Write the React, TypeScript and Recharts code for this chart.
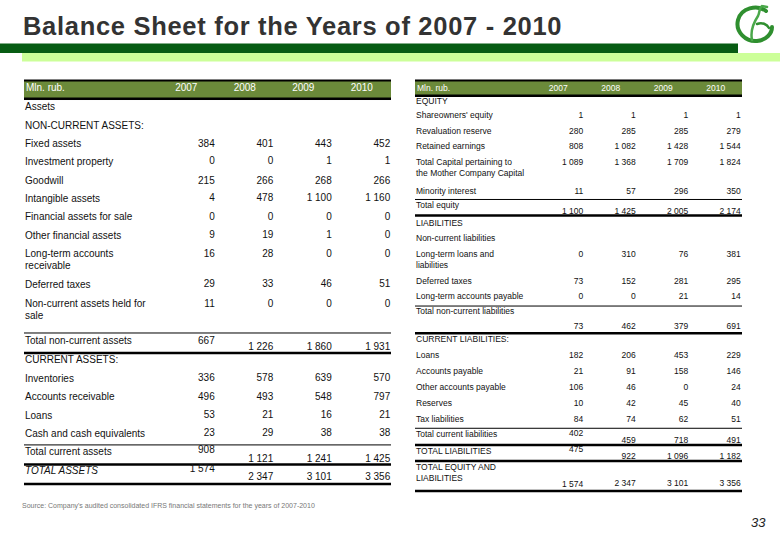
import React from 'react';
import { ScatterChart, Scatter, XAxis, YAxis, ReferenceLine, ReferenceArea } from 'recharts';

// ---------- data ----------
const years = ['2007', '2008', '2009', '2010'];

const assetLabels = [
  'Assets', 'NON-CURRENT ASSETS:', 'Fixed assets', 'Investment property', 'Goodwill',
  'Intangible assets', 'Financial assets for sale', 'Other financial assets',
  'Long-term accounts\nreceivable', 'Deferred taxes', 'Non-current assets held for\nsale',
  'Total non-current assets', 'CURRENT ASSETS:', 'Inventories', 'Accounts receivable',
  'Loans', 'Cash and cash equivalents', 'Total current assets', 'TOTAL ASSETS',
];
const assets2007 = [null, null, 384, 0, 215, 4, 0, 9, 16, 29, 11, 667, null, 336, 496, 53, 23, 908, 1574];
const assets2008 = [null, null, 401, 0, 266, 478, 0, 19, 28, 33, 0, 1226, null, 578, 493, 21, 29, 1121, 2347];
const assets2009 = [null, null, 443, 1, 268, 1100, 0, 1, 0, 46, 0, 1860, null, 639, 548, 16, 38, 1241, 3101];
const assets2010 = [null, null, 452, 1, 266, 1160, 0, 0, 0, 51, 0, 1931, null, 570, 797, 21, 38, 1425, 3356];

const liabLabels = [
  'EQUITY', "Shareowners' equity", 'Revaluation reserve', 'Retained earnings',
  'Total Capital pertaining to\nthe Mother Company Capital', 'Minority interest', 'Total equity',
  'LIABILITIES', 'Non-current liabilities', 'Long-term loans and\nliabilities', 'Deferred taxes',
  'Long-term accounts payable', 'Total non-current liabilities', 'CURRENT LIABILITIES:', 'Loans',
  'Accounts payable', 'Other accounts payable', 'Reserves', 'Tax liabilities',
  'Total current liabilities', 'TOTAL LIABILITIES', 'TOTAL EQUITY AND\nLIABILITIES',
];
const liab2007 = [null, 1, 280, 808, 1089, 11, 1100, null, null, 0, 73, 0, 73, null, 182, 21, 106, 10, 84, 402, 475, 1574];
const liab2008 = [null, 1, 285, 1082, 1368, 57, 1425, null, null, 310, 152, 0, 462, null, 206, 91, 46, 42, 74, 459, 922, 2347];
const liab2009 = [null, 1, 285, 1428, 1709, 296, 2005, null, null, 76, 281, 21, 379, null, 453, 158, 0, 45, 62, 718, 1096, 3101];
const liab2010 = [null, 1, 279, 1544, 1824, 350, 2174, null, null, 381, 295, 14, 691, null, 229, 146, 24, 40, 51, 491, 1182, 3356];

// ---------- layout (row positions in line units) ----------
const leftLabelSlots = [0, 1.03, 2, 2.97, 4, 4.97, 5.95, 6.97, 7.95, 9.62, 10.65, 12.65, 13.68, 14.68, 15.7, 16.68, 17.65, 18.65, 19.68];
const leftFirstSlots = [0, 1.03, 2, 2.97, 4, 4.97, 5.95, 6.97, 7.95, 9.62, 10.65, 12.65, 13.68, 14.68, 15.7, 16.68, 17.65, 18.59, 19.62];
const leftRestSlots = [0, 1.03, 2, 2.97, 4, 4.97, 5.95, 6.97, 7.95, 9.62, 10.65, 13.0, 13.68, 14.68, 15.7, 16.68, 17.65, 19.03, 20.05];
const leftThin = [12.27, 18.32];
const leftThick = [13.35, 19.38, 20.43];

const rightLabelSlots = [-0.875, 0, 0.98, 1.94, 2.95, 4.75, 5.625, 6.72, 7.7, 8.7, 10.35, 11.33, 12.28, 14.0, 15, 16, 17, 18, 19, 19.96, 20.97, 21.98];
const rightFirstSlots = [-0.875, 0, 0.98, 1.94, 2.95, 4.75, 6, 6.72, 7.7, 8.7, 10.35, 11.33, 13.16, 14.0, 15, 16, 17, 18, 19, 19.875, 20.9, 23.09];
const rightRestSlots = [-0.875, 0, 0.98, 1.94, 2.95, 4.75, 6, 6.72, 7.7, 8.7, 10.35, 11.33, 13.16, 14.0, 15, 16, 17, 18, 19, 20.31, 21.31, 23.0];
const rightThin = [5.28, 11.94, 19.58];
const rightThick = [6.28, 13.64, 20.625, 21.625, 23.5];

const FONT = '"Liberation Sans", Arial, sans-serif';
const OLIVE = '#6b8a3a';

const fmt = (v: number) => {
  const s = String(v);
  return s.length > 3 ? s.slice(0, s.length - 3) + ' ' + s.slice(-3) : s;
};

type TableProps = {
  left: number;
  width: number;
  yAxisWidth: number;
  marginTop: number;
  marginBottom: number;
  marginRight: number;
  domain: [number, number];
  labels: string[];
  labelSlots: number[];
  firstSlots: number[];
  restSlots: number[];
  columns: (number | null)[][];
  headerSlot: number;
  barTop: number;
  barBottom: number;
  thin: number[];
  thick: number[];
  fontSize: number;
  lineGap: number;
  valueDx: number;
  italic: string[];
};

function BalanceTable(p: TableProps) {
  const ticks = [p.headerSlot, ...p.labelSlots];
  const renderTick = (t: any) => {
    const v = t.payload.value;
    if (v === p.headerSlot) {
      return (
        <text x={4} y={t.y} dominantBaseline="central" fontSize={p.fontSize} fill="#fff" fontFamily={FONT}>
          Mln. rub.
        </text>
      );
    }
    const idx = p.labelSlots.indexOf(v);
    if (idx < 0) return <g />;
    const lines = p.labels[idx].split('\n');
    return (
      <text
        x={3}
        y={t.y}
        dominantBaseline="central"
        fontSize={p.fontSize}
        fill="#111"
        fontFamily={FONT}
        fontStyle={p.italic.includes(p.labels[idx]) ? 'italic' : 'normal'}
      >
        {lines.map((ln, k) => (
          <tspan key={k} x={3} dy={k === 0 ? 0 : p.lineGap}>
            {ln}
          </tspan>
        ))}
      </text>
    );
  };

  const headerData = years.map((label, i) => ({ x: i, slot: p.headerSlot, label }));

  return (
    <div style={{ position: 'absolute', left: p.left, top: 0 }}>
      <ScatterChart
        width={p.width}
        height={540}
        margin={{ top: p.marginTop, bottom: p.marginBottom, left: 0, right: p.marginRight }}
      >
        <XAxis type="number" dataKey="x" domain={[-0.5, 3.5]} hide />
        <YAxis
          type="number"
          dataKey="slot"
          domain={p.domain}
          reversed
          ticks={ticks}
          interval={0}
          width={p.yAxisWidth}
          tickLine={false}
          axisLine={false}
          tick={renderTick}
          allowDataOverflow
        />
        <ReferenceArea
          y1={p.barTop}
          y2={p.barBottom}
          ifOverflow="visible"
          shape={(s: any) => (
            <g>
              <rect x={2} y={s.y} width={s.x + s.width - 2} height={s.height} fill="#000" />
              <rect x={2} y={s.y + 2} width={s.x + s.width - 2} height={s.height - 4.5} fill={OLIVE} />
            </g>
          )}
        />
        {p.thin.map((y, i) => (
          <ReferenceLine
            key={'t' + i}
            y={y}
            ifOverflow="visible"
            shape={(s: any) => <line x1={2} x2={s.x2} y1={s.y1} y2={s.y2} stroke="#000" strokeWidth={1} />}
          />
        ))}
        {p.thick.map((y, i) => (
          <ReferenceLine
            key={'k' + i}
            y={y}
            ifOverflow="visible"
            shape={(s: any) => <line x1={2} x2={s.x2} y1={s.y1} y2={s.y2} stroke="#000" strokeWidth={2.5} />}
          />
        ))}
        <Scatter
          data={headerData}
          isAnimationActive={false}
          shape={(s: any) => (
            <text x={s.cx} y={s.cy} textAnchor="middle" dominantBaseline="central" fontSize={p.fontSize} fill="#fff" fontFamily={FONT}>
              {s.payload.label}
            </text>
          )}
        />
        {p.columns.map((vals, j) => {
          const data = vals
            .map((v, i) => (v == null ? null : { x: j, slot: j === 0 ? p.firstSlots[i] : p.restSlots[i], v }))
            .filter(Boolean) as { x: number; slot: number; v: number }[];
          return (
            <Scatter
              key={j}
              data={data}
              isAnimationActive={false}
              shape={(s: any) => (
                <text x={s.cx + p.valueDx} y={s.cy} textAnchor="end" dominantBaseline="central" fontSize={p.fontSize} fill="#111" fontFamily={FONT}>
                  {fmt(s.payload.v)}
                </text>
              )}
            />
          );
        })}
      </ScatterChart>
    </div>
  );
}

function Decor() {
  return (
    <svg width={780} height={540} style={{ position: 'absolute', left: 0, top: 0 }}>
      <text x={23} y={35} fontSize={25.5} fontWeight="bold" letterSpacing={0.7} fill="#333" fontFamily={FONT}>
        Balance Sheet for the Years of 2007 - 2010
      </text>
      <rect x={0} y={43.5} width={738} height={9.5} fill="#075c13" />
      <rect x={22} y={53} width={758} height={8.5} fill="#ccff99" />
      {/* logo */}
      <g fill="none" strokeLinecap="round">
        <path d="M 766 11 C 757 4, 741 8, 738 20 C 735 32, 746 42, 757 41 C 766 40, 772 34, 772 27" stroke="#2f8f2f" strokeWidth={4} />
        <path d="M 752 40 C 750 30, 754 22, 758 16 C 760 12, 759 8, 762 6 L 767 7" stroke="#4aa84a" strokeWidth={2.5} />
        <path d="M 757 24 C 762 22, 767 24, 769 28" stroke="#2f8f2f" strokeWidth={2.5} />
      </g>
      <text x={22} y={508} fontSize={7} fill="#777" fontFamily={FONT}>
        Source: Company's audited consolidated IFRS financial statements for the years of 2007-2010
      </text>
      <text x={751} y={527} fontSize={13} fontStyle="italic" fill="#222" fontFamily={FONT}>
        33
      </text>
    </svg>
  );
}

export default function App() {
  return (
    <div style={{ position: 'absolute', left: 0, top: 0, width: 780, height: 540, background: '#fff', overflow: 'hidden' }}>
      <Decor />
      <BalanceTable
        left={22}
        width={372}
        yAxisWidth={135}
        marginTop={76.4}
        marginBottom={36.25}
        marginRight={3}
        domain={[-1.6, 21.5]}
        labels={assetLabels}
        labelSlots={leftLabelSlots}
        firstSlots={leftFirstSlots}
        restSlots={leftRestSlots}
        columns={[assets2007, assets2008, assets2009, assets2010]}
        headerSlot={-0.973}
        barTop={-1.432}
        barBottom={-0.324}
        thin={leftThin}
        thick={leftThick}
        fontSize={10}
        lineGap={12}
        valueDx={28.5}
        italic={['TOTAL ASSETS']}
      />
      <BalanceTable
        left={413}
        width={332}
        yAxisWidth={119}
        marginTop={76.6}
        marginBottom={41}
        marginRight={3}
        domain={[-2.4, 24]}
        labels={liabLabels}
        labelSlots={rightLabelSlots}
        firstSlots={rightFirstSlots}
        restSlots={rightRestSlots}
        columns={[liab2007, liab2008, liab2009, liab2010]}
        headerSlot={-1.69}
        barTop={-2.22}
        barBottom={-1.125}
        thin={rightThin}
        thick={rightThick}
        fontSize={8.5}
        lineGap={11}
        valueDx={25}
        italic={[]}
      />
    </div>
  );
}
